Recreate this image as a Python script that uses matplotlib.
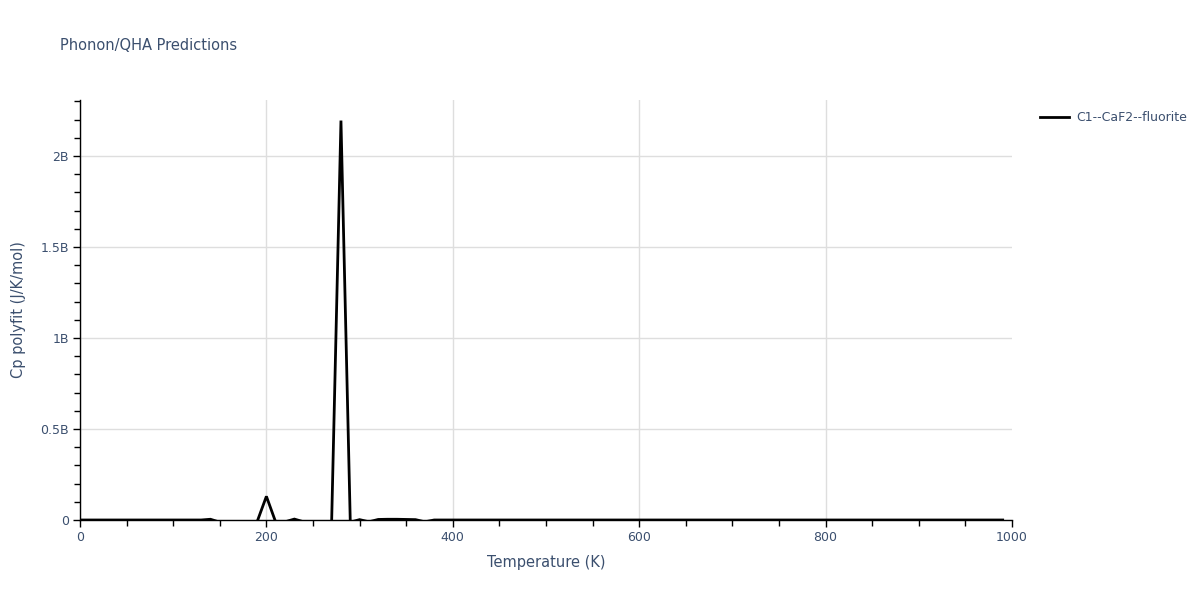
import numpy as np
import matplotlib
matplotlib.use("Agg")
import matplotlib.pyplot as plt
from matplotlib.ticker import MultipleLocator, FuncFormatter

# temperature grid and the polyfit Cp values
temperatures = list(range(0, 1000, 10))
cp_low = [0.0] * 14  # 0 .. 130 K
cp_mid = [4e6, -1.2e7, -2e7, -2e7, -1.5e7, -1e7, 1.3e8, -1.2e7, -1e7, 5e6,
          -1e7, -2e7, -1.5e7, -1e7, 2.195e9, -1.2e7, 2e6, -1e7, 3e6, 4e6,
          4e6, 3e6, 2e6, -1e7]  # 140 .. 370 K
cp_high = [0.0] * 62  # 380 .. 990 K
cp_values = cp_low + cp_mid + cp_high
series_label = "C1--CaF2--fluorite"

text_color = "#3b4f6e"
grid_color = "#dedede"

plt.rcParams['font.family'] = ['DejaVu Sans']

fig = plt.figure(figsize=(12, 6), dpi=100)
ax = fig.add_axes([80 / 1200, 80 / 600, 932 / 1200, 420 / 600])

ax.plot(temperatures, cp_values, color="black", lw=2, label=series_label,
        solid_joinstyle="miter")

ax.set_xlim(0, 1000)
ax.set_ylim(0, 2.308e9)

ax.xaxis.set_major_locator(MultipleLocator(200))
ax.xaxis.set_minor_locator(MultipleLocator(50))
ax.yaxis.set_major_locator(MultipleLocator(0.5e9))
ax.yaxis.set_minor_locator(MultipleLocator(0.1e9))


def billions(v, pos):
    if v == 0:
        return "0"
    return "{:g}B".format(v / 1e9)


ax.yaxis.set_major_formatter(FuncFormatter(billions))

ax.grid(True, which="major", color=grid_color, lw=1)
ax.set_axisbelow(True)
for side in ("top", "right"):
    ax.spines[side].set_visible(False)
for side in ("left", "bottom"):
    ax.spines[side].set_color("black")
    ax.spines[side].set_linewidth(1)

ax.tick_params(which="both", direction="out", color="black", labelcolor=text_color,
               labelsize=9)
ax.tick_params(which="major", length=5, width=1, pad=3)
ax.tick_params(which="minor", length=4, width=1)

ax.set_xlabel("Temperature (K)", color=text_color, fontsize=10.5, labelpad=8)
ax.set_ylabel("Cp polyfit (J/K/mol)", color=text_color, fontsize=10.5, labelpad=10)

fig.text(60 / 1200, 1 - 45 / 600, "Phonon/QHA Predictions", color=text_color,
         fontsize=10.5, va="center", ha="left")

ax.legend(loc="upper left", bbox_to_anchor=(1.018, 1.0), frameon=False,
          fontsize=9, labelcolor=text_color, handlelength=2.3, handletextpad=0.6)

# no grid line on the right edge at 1000 K
fig.canvas.draw()
for line, loc in zip(ax.get_xgridlines(), ax.get_xticks()):
    if loc >= 1000:
        line.set_visible(False)

fig.savefig("out.png", dpi=100)
